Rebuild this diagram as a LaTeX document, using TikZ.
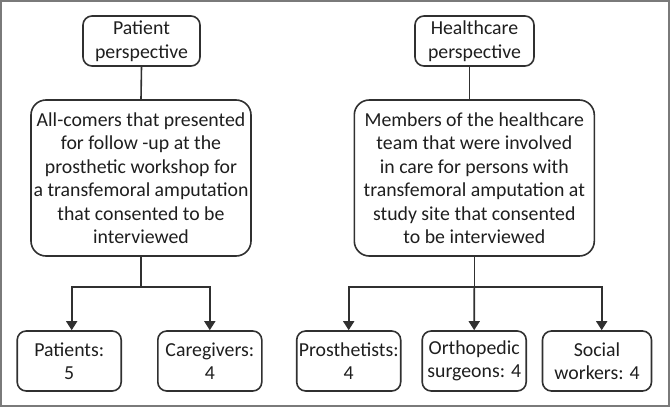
\documentclass[tikz,border=0pt]{standalone}
\usepackage{fontspec}
\setmainfont{Carlito}
\usetikzlibrary{arrows.meta}
\definecolor{ln}{HTML}{303030}
\definecolor{frame}{HTML}{7A7A7A}
\definecolor{txt}{HTML}{1E1E1E}
\tikzset{
  box/.style={draw=ln, line width=1.6pt, align=center, inner sep=0pt, text=txt,
    font=\fontsize{19.8}{23.5}\selectfont},
  smallbox/.style={box, rounded corners=9pt},
  bigbox/.style={box, rounded corners=15pt},
  conn/.style={draw=ln, line width=1.6pt},
  arr/.style={conn, -{Triangle[width=11pt,length=9pt]}}
}
\begin{document}
\begin{tikzpicture}[x=1pt,y=-1pt]
\useasboundingbox (0,0) rectangle (670,407);
\draw[frame, line width=1.6pt] (1,1) rectangle (669,406);
% left column
\node[smallbox, minimum width=117pt, minimum height=50pt] (pp) at (141.5,41) {Patient\\perspective};
\node[bigbox, minimum width=220pt, minimum height=156pt] (ac) at (141,178)
  {All-comers that presented\\for follow -up at the\\prosthetic workshop for\\a transfemoral amputation\\that consented to be\\interviewed};
\node[smallbox, minimum width=104pt, minimum height=60pt] (pa) at (69.2,361) {Patients:\\5};
\node[smallbox, minimum width=104pt, minimum height=60pt] (cg) at (209.8,361) {Caregivers:\\4};
% right column
\node[smallbox, minimum width=119pt, minimum height=50pt] (hp) at (474.5,41) {Healthcare\\perspective};
\node[bigbox, minimum width=240pt, minimum height=156pt] (mb) at (474.3,178)
  {Members of the healthcare\\team that were involved\\in care for persons with\\transfemoral amputation at\\study site that consented\\to be interviewed};
\node[smallbox, minimum width=104pt, minimum height=60pt] (pr) at (348.7,361) {Prosthetists:\\4};
\node[smallbox, minimum width=104pt, minimum height=60pt] (os) at (474.2,361) {Orthopedic\\surgeons: 4};
\node[smallbox, minimum width=109pt, minimum height=60pt] (sw) at (597,361) {Social\\workers: 4};
% connectors left
\draw[conn] (pp.south) -- (ac.north);
\coordinate (bl) at (141,287);
\draw[conn] (ac.south) -- (bl);
\draw[arr] (bl) -| ([xshift=2.5pt]pa.north);
\draw[arr] (bl) -| (cg.north);
% connectors right
\draw[conn] ([xshift=-5pt]hp.south) -- ([xshift=-5pt]hp.south |- mb.north);
\coordinate (br) at (474.3,287);
\draw[conn] (mb.south) -- (br);
\draw[arr] (br) -| (pr.north);
\draw[arr] (br) -- (os.north);
\draw[arr] (br) -| ([xshift=4.7pt]sw.north);
\end{tikzpicture}
\end{document}
